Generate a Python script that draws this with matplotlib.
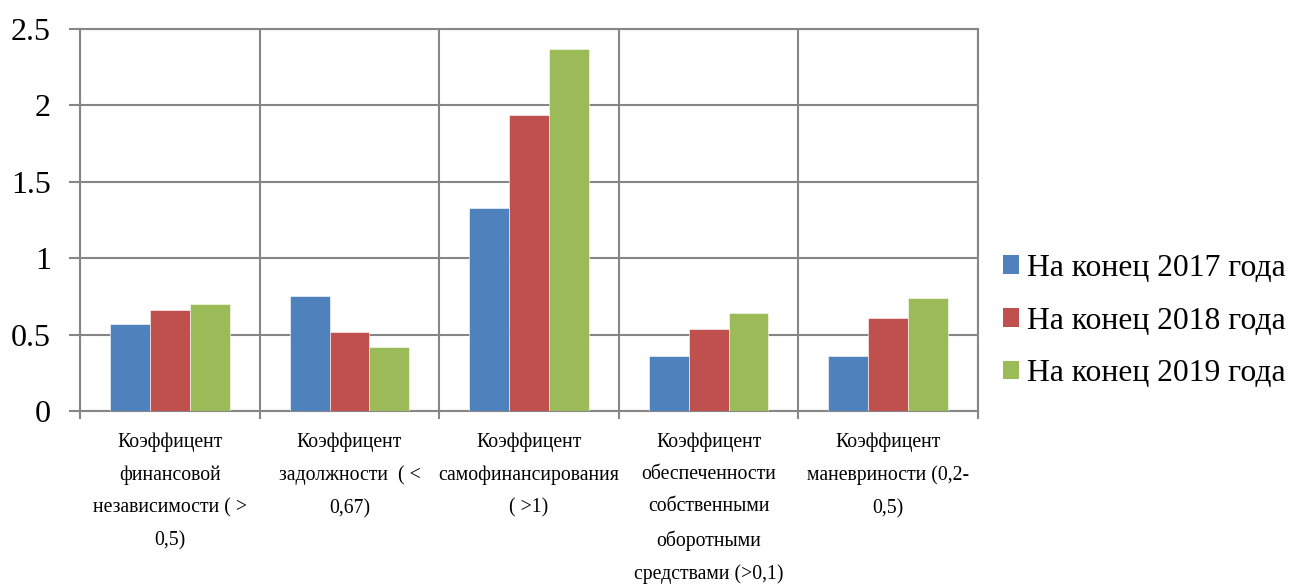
import numpy as np
import matplotlib.pyplot as plt
from matplotlib.patches import Patch

plt.rcParams['font.family'] = ['Liberation Serif', 'DejaVu Serif']

# categories and values per year
categories = [
    "Коэффицент\nфинансовой\nнезависимости ( >\n0,5)",
    "Коэффицент\nзадолжности  ( <\n0,67)",
    "Коэффицент\nсамофинансирования\n( >1)",
    "Коэффицент\nобеспеченности\nсобственными\nоборотными\nсредствами (>0,1)",
    "Коэффицент\nманевриности (0,2-\n0,5)",
]
series_names = ["На конец 2017 года", "На конец 2018 года", "На конец 2019 года"]
v2017 = [0.57, 0.75, 1.33, 0.36, 0.36]
v2018 = [0.66, 0.52, 1.94, 0.54, 0.61]
v2019 = [0.70, 0.42, 2.37, 0.64, 0.74]
colors = ["#4F81BD", "#C0504D", "#9BBB59"]
yticks = [0, 0.5, 1, 1.5, 2, 2.5]
ytick_labels = ["0", "0.5", "1", "1.5", "2", "2.5"]

grid_c = "#868686"

fig = plt.figure(figsize=(12.91, 5.86), dpi=100)
ax = fig.add_axes([0.062, 0.2986, 0.6956, 0.6519])

x = np.arange(len(categories))
w = 0.222
for k, vals in enumerate([v2017, v2018, v2019]):
    ax.bar(x + (k - 1) * w, vals, width=w, color=colors[k],
           edgecolor="white", linewidth=0.4, zorder=3)

ax.set_xlim(-0.5, len(categories) - 0.5)
ax.set_ylim(0, 2.5)

ax.set_yticks(yticks)
ax.set_yticklabels(ytick_labels, fontsize=23)
ax.tick_params(axis='y', direction='out', length=8, width=1.5, color=grid_c, pad=13)
ax.yaxis.grid(True, color=grid_c, linewidth=1.5, zorder=0)

ax.set_xticks(x)
ax.set_xticklabels(categories, fontsize=14.2, linespacing=1.93, va='top')
ax.tick_params(axis='x', which='major', length=0, pad=15.5)
ax.set_xticks(np.arange(-0.5, len(categories)), minor=True)
ax.tick_params(axis='x', which='minor', direction='out', length=6, width=1.5, color=grid_c)
ax.xaxis.grid(True, which='minor', color=grid_c, linewidth=1.5, zorder=0)

for s in ax.spines.values():
    s.set_color(grid_c)
    s.set_linewidth(1.5)
ax.set_axisbelow(True)

handles = [Patch(facecolor=c, edgecolor='none') for c in colors]
fig.legend(handles, series_names, loc='center left', bbox_to_anchor=(0.7545, 0.452),
           frameon=False, fontsize=22.8, handlelength=0.53, handleheight=0.53,
           handletextpad=0.25, labelspacing=0.75)

fig.savefig("out.png", dpi=100)
